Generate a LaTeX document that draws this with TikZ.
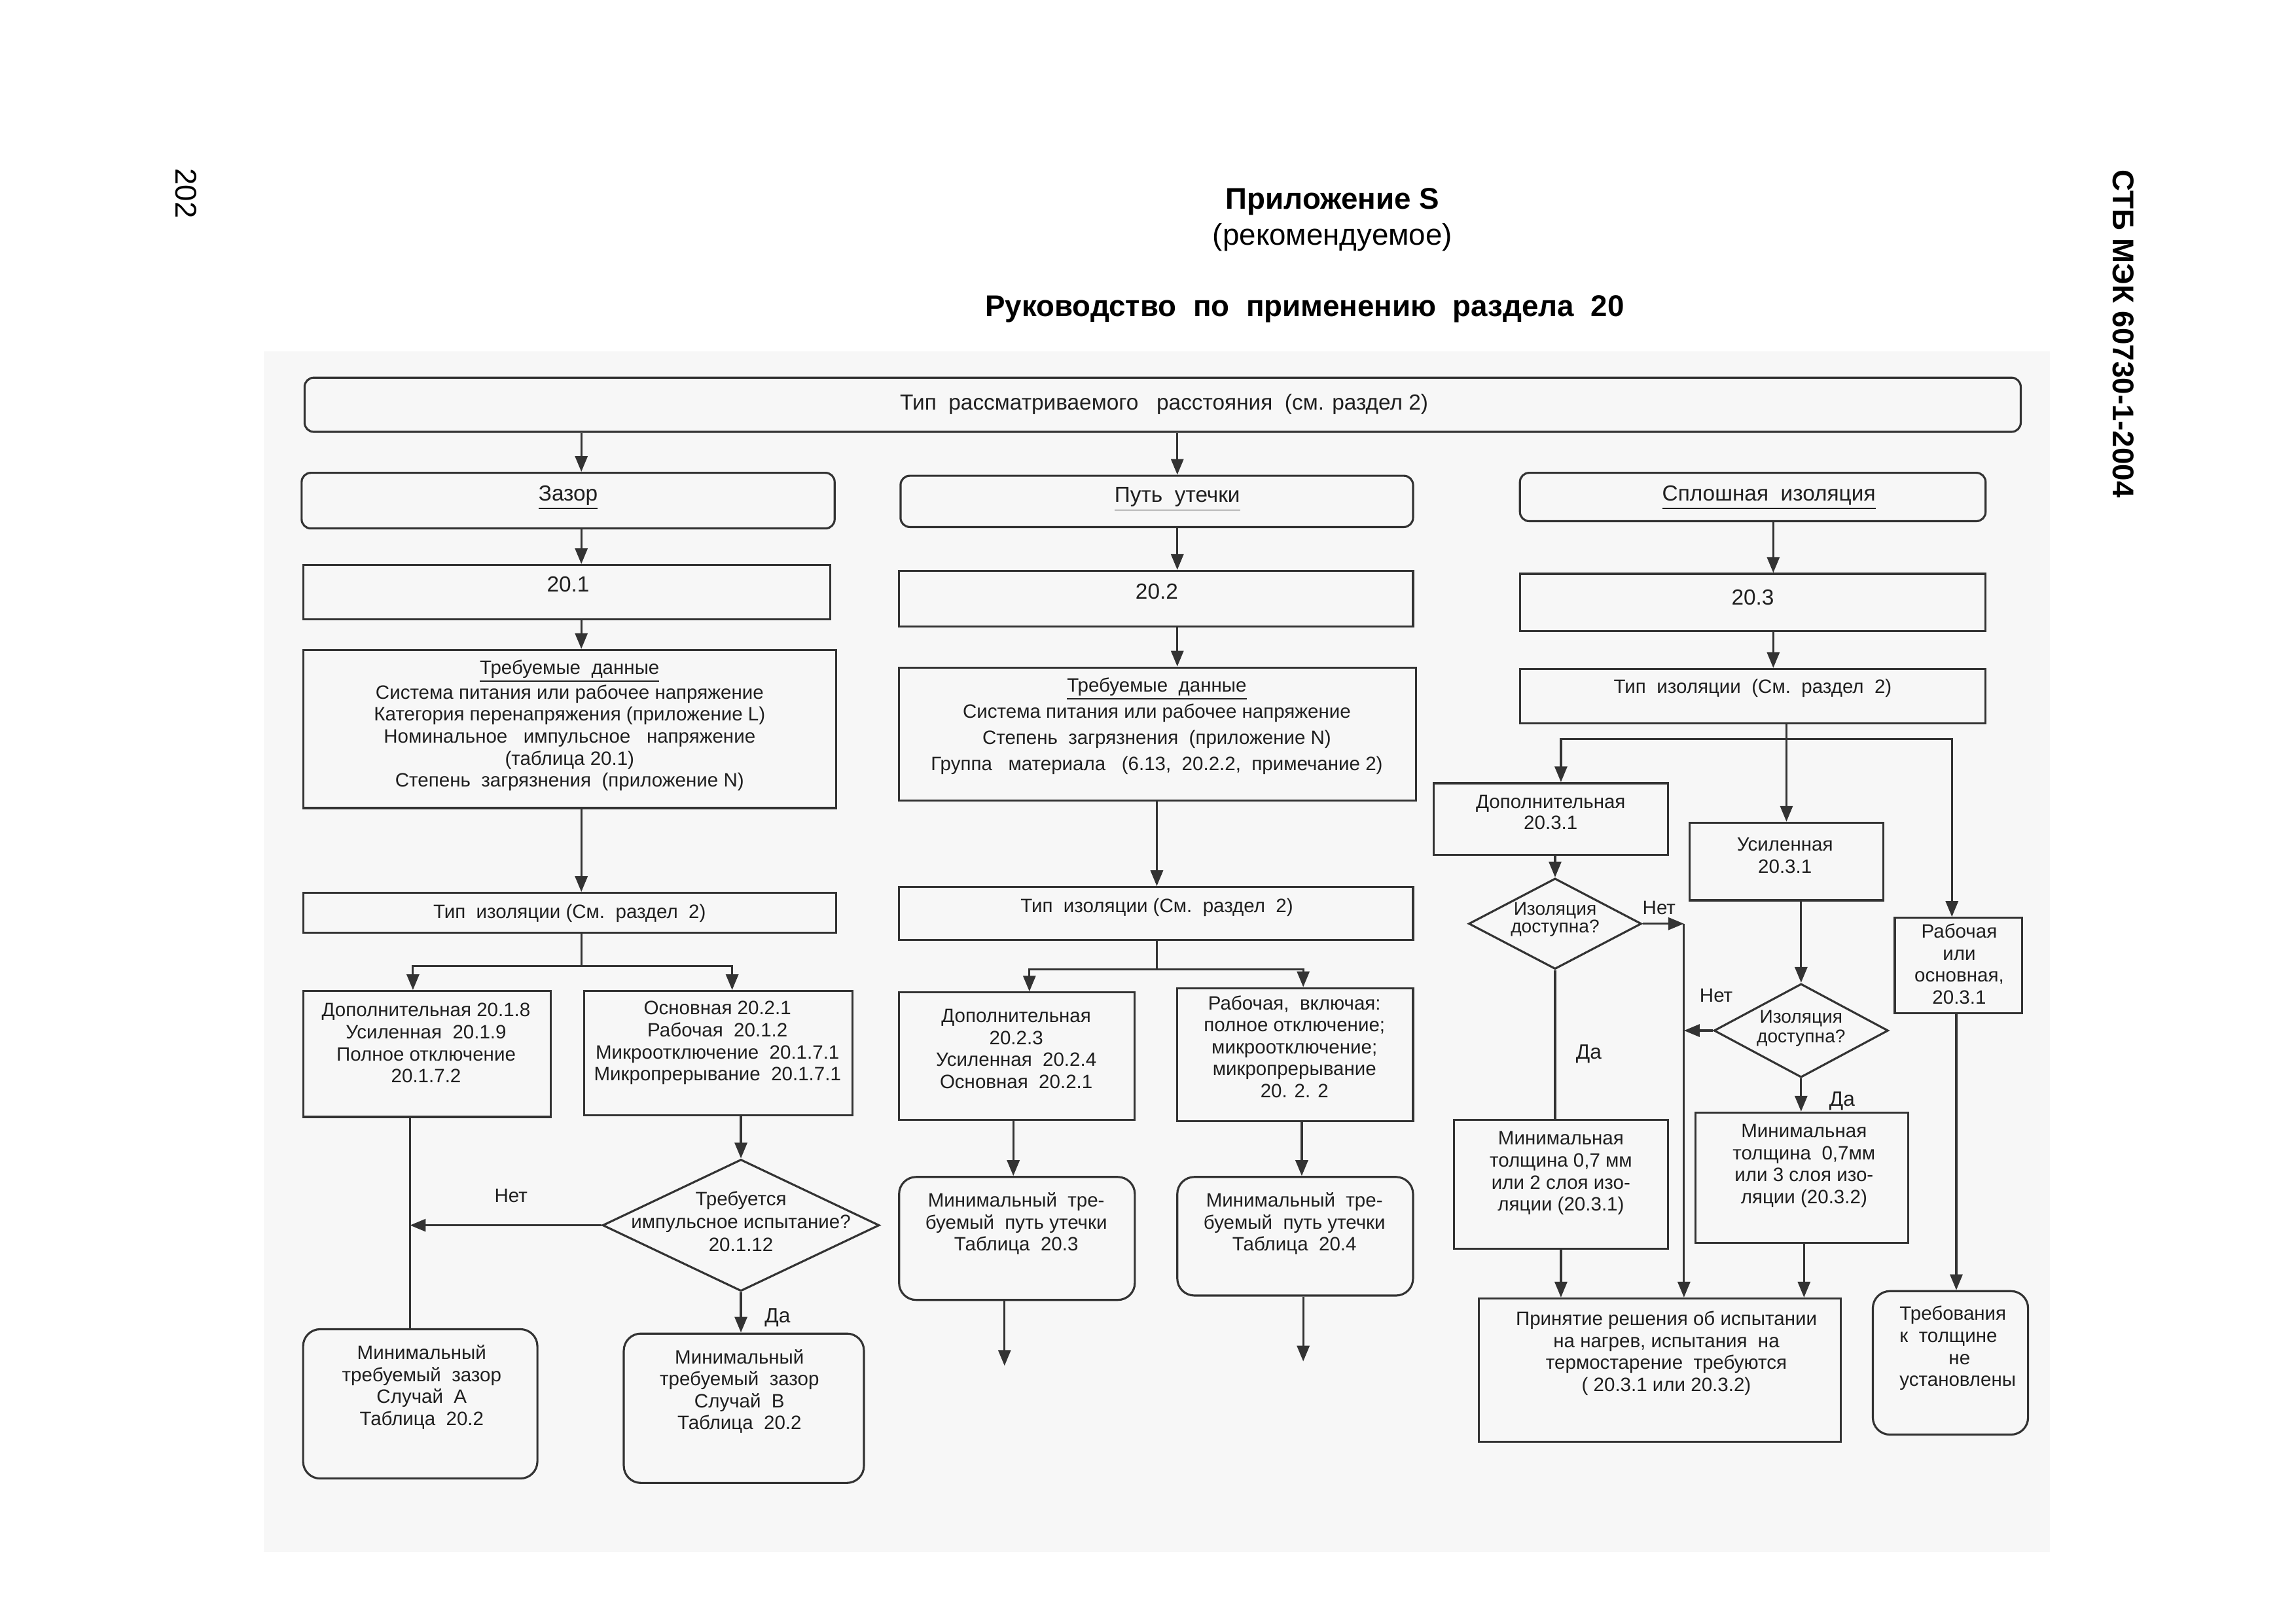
\documentclass[tikz,border=0pt]{standalone}
\usepackage{fontspec}
\setmainfont{Liberation Sans}
\usetikzlibrary{arrows.meta,shapes.geometric,fit}
\newcommand\pxu{0.22372mm}
\begin{document}
\begin{tikzpicture}[x=0.22372mm,y=-0.22372mm,
  line/.style={draw=black!80, line width=0.9pt},
  arr/.style={line, -{Triangle[length=2.4mm,width=1.9mm]}},
  box/.style={draw=black!80, line width=0.9pt, inner sep=0pt, rectangle},
  rbox/.style={box, rounded corners=1.4mm},
  mbox/.style={box, rounded corners=2.6mm},
  dia/.style={draw=black!80, line width=0.9pt, diamond, inner sep=0pt},
  txt/.style={inner sep=0pt, align=center, text=black!88, font=\fontsize{8.4}{9.55}\selectfont},
  hdr/.style={txt, font=\fontsize{9.5}{11}\selectfont},
  ttl/.style={inner sep=0pt, text=black, font=\fontsize{13}{15}\selectfont}
]
\useasboundingbox (0,0) rectangle (1568,1109);
\fill[black!3] (180,240) rectangle (1400,1060);

% titles
\node[ttl, rotate=-90] (pnum) at (127,132) {202};
\node[ttl, rotate=-90, font=\fontsize{13}{15}\bfseries] (std) at (1450,228) {СТБ МЭК 60730-1-2004};
\node[ttl, font=\fontsize{13}{15}\bfseries] (ti1) at (910,138) {Приложение S};
\node[ttl] (ti2) at (910,162) {(рекомендуемое)};
\node[ttl, font=\fontsize{13}{15}\bfseries] (ti3) at (891,211) {Руководство\ \ по\ \ применению\ \ раздела\ \ 20};

% column x coordinates
\coordinate (x1) at (397,0);  \coordinate (x1a) at (282,0); \coordinate (x1b) at (500,0);
\coordinate (x1c) at (280,0);
\coordinate (x2) at (804,0);  \coordinate (x2m) at (790,0); \coordinate (x2a) at (703,0);
\coordinate (x2b) at (890,0); \coordinate (x2c) at (692,0); \coordinate (x2d) at (889,0);
\coordinate (x2e) at (686,0); \coordinate (x2f) at (890,0);
\coordinate (x3) at (1211,0); \coordinate (x3m) at (1220,0); \coordinate (x3a) at (1066,0);
\coordinate (x3b) at (1333,0); \coordinate (x3f) at (1336,0); \coordinate (x3g) at (1066,0);
\coordinate (x3h) at (1232,0);

% boxes
\node[rbox, fit={(208,258) (1380,295)}] (t0) {};
\node[hdr] (t0t) at (795,276) {Тип\ \ рассматриваемого\ \ \ расстояния\ \ (см. раздел 2)};

\node[rbox, fit={(206,323) (570,361)}] (zaz) {};
\node[hdr] (zazt) at (388,340) {\underline{Зазор}};
\node[box, fit={(207,386) (567,423)}] (b201) {};
\node[hdr] (b201t) at (388,399) {20.1};
\node[box, fit={(207,444) (571,552)}] (req1) {};
\node[txt] (req1t) at (389,495.5) {\underline{Требуемые\ \ данные}\\Система питания или рабочее напряжение\\Категория перенапряжения (приложение L)\\Номинальное\ \ \ импульсное\ \ \ напряжение\\(таблица 20.1)\\Степень\ \ загрязнения\ \ (приложение N)};
\node[box, fit={(207,610) (571,637)}] (ins1) {};
\node[txt] (ins1t) at (389,624) {Тип\ \ изоляции (См.\ \ раздел\ \ 2)};
\node[box, fit={(207,677) (376,763)}] (l1) {};
\node[txt] (l1t) at (291,712.5) {Дополнительная 20.1.8\\Усиленная\ \ 20.1.9\\Полное отключение\\20.1.7.2};
\node[box, fit={(399,677) (582,762)}] (l2) {};
\node[txt] (l2t) at (490,712.5) {Основная 20.2.1\\Рабочая\ \ 20.1.2\\Микроотключение\ \ 20.1.7.1\\Микропрерывание\ \ 20.1.7.1};
\node[dia, minimum width=189*\pxu, minimum height=90*\pxu] (d1) at (506,837) {};
\node[txt, font=\fontsize{8.4}{9.9}\selectfont] (d1t) at (506,834.5) {Требуется\\импульсное испытание?\\20.1.12};
\node[mbox, fit={(207,908) (367,1010)}] (minA) {};
\node[txt] (minAt) at (288,947.5) {Минимальный\\требуемый\ \ зазор\\Случай\ \ А\\Таблица\ \ 20.2};
\node[mbox, fit={(426,911) (590,1013)}] (minB) {};
\node[txt] (minBt) at (505,950.5) {Минимальный\\требуемый\ \ зазор\\Случай\ \ В\\Таблица\ \ 20.2};

\node[rbox, fit={(615,325) (965,360)}] (put) {};
\node[hdr] (putt) at (804,341) {\underline{Путь\ \ утечки}};
\node[box, fit={(614,390) (965,428)}] (b202) {};
\node[hdr] (b202t) at (790,404) {20.2};
\node[box, fit={(614,456) (967,547)}] (req2) {};
\node[txt, font=\fontsize{8.4}{11.46}\selectfont] (req2t) at (790,496) {\underline{Требуемые\ \ данные}\\Система питания или рабочее напряжение\\Степень\ \ загрязнения\ \ (приложение N)\\Группа\ \ \ материала\ \ \ (6.13,\ \ 20.2.2,\ \ примечание 2)};
\node[box, fit={(614,606) (965,642)}] (ins2) {};
\node[txt] (ins2t) at (790,620) {Тип\ \ изоляции (См.\ \ раздел\ \ 2)};
\node[box, fit={(614,678) (775,765)}] (m1) {};
\node[txt] (m1t) at (694,716.5) {Дополнительная\\20.2.3\\Усиленная\ \ 20.2.4\\Основная\ \ 20.2.1};
\node[box, fit={(804,675) (965,766)}] (m2) {};
\node[txt] (m2t) at (884,715) {Рабочая,\ \ включая:\\полное отключение;\\микроотключение;\\микропрерывание\\20. 2. 2};
\node[mbox, fit={(614,804) (775,888)}] (minC) {};
\node[txt] (minCt) at (694,836) {Минимальный\ \ тре-\\буемый\ \ путь утечки\\Таблица\ \ 20.3};
\node[mbox, fit={(804,804) (965,885)}] (minD) {};
\node[txt] (minDt) at (884,836) {Минимальный\ \ тре-\\буемый\ \ путь утечки\\Таблица\ \ 20.4};
\coordinate (e1) at (686,933);
\coordinate (e2) at (890,930);

\node[rbox, fit={(1038,323) (1356,356)}] (spl) {};
\node[hdr] (splt) at (1208,340) {\underline{Сплошная\ \ изоляция}};
\node[box, fit={(1038,392) (1356,431)}] (b203) {};
\node[hdr] (b203t) at (1197,408) {20.3};
\node[box, fit={(1038,457) (1356,494)}] (ins3) {};
\node[txt] (ins3t) at (1197,470) {Тип\ \ изоляции\ \ (См.\ \ раздел\ \ 2)};
\node[box, fit={(979,535) (1139,584)}] (dop3) {};
\node[txt, font=\fontsize{8.4}{9.2}\selectfont] (dop3t) at (1059,555) {Дополнительная\\20.3.1};
\node[box, fit={(1154,562) (1286,615)}] (us3) {};
\node[txt] (us3t) at (1219,584.5) {Усиленная\\20.3.1};
\node[box, fit={(1294,627) (1381,692)}] (rab) {};
\node[txt] (rabt) at (1338,658.5) {Рабочая\\или\\основная,\\20.3.1};
\node[dia, minimum width=118*\pxu, minimum height=62*\pxu] (d2) at (1062,631) {};
\node[txt, font=\fontsize{8}{7.8}\selectfont] (d2t) at (1062,628) {Изоляция\\доступна?};
\node[dia, minimum width=119*\pxu, minimum height=64*\pxu] (d3) at (1230,704) {};
\node[txt, font=\fontsize{8}{8.6}\selectfont] (d3t) at (1230,702.5) {Изоляция\\доступна?};
\coordinate (j2) at (1150,631);
\node[box, fit={(993,765) (1139,853)}] (minT1) {};
\node[txt] (minT1t) at (1066,801.5) {Минимальная\\толщина 0,7 мм\\или 2 слоя изо-\\ляции (20.3.1)};
\node[box, fit={(1158,760) (1303,849)}] (minT2) {};
\node[txt] (minT2t) at (1232,796.5) {Минимальная\\толщина\ \ 0,7мм\\или 3 слоя изо-\\ляции (20.3.2)};
\node[box, fit={(1010,887) (1257,985)}] (prin) {};
\node[txt] (print) at (1138,924.5) {Принятие решения об испытании\\на нагрев, испытания\ \ на\\термостарение\ \ требуются\\( 20.3.1 или 20.3.2)};
\node[mbox, fit={(1279,882) (1385,980)}] (treb) {};
\node[txt, align=left, anchor=west] (trebt) at (1297,921) {Требования\\к\ \ толщине\\\hspace*{7.5mm}не\\установлены};

% labels
\node[txt] (net1) at (349,817) {Нет};
\node[txt, font=\fontsize{9}{10}\selectfont] (da1) at (531,900) {Да};
\node[txt] (net2) at (1133,620) {Нет};
\node[txt, font=\fontsize{9}{10}\selectfont] (da2) at (1085,720) {Да};
\node[txt] (net3) at (1172,680) {Нет};
\node[txt, font=\fontsize{9}{10}\selectfont] (da3) at (1258,752) {Да};

% connectors column 1
\draw[arr] (t0.south -| x1) -- (zaz.north -| x1);
\draw[arr] (zaz.south -| x1) -- (b201.north -| x1);
\draw[arr] (b201.south -| x1) -- (req1.north -| x1);
\draw[arr] (req1.south -| x1) -- (ins1.north -| x1);
\coordinate (br1) at (397,660);
\draw[line] (ins1.south -| br1) -- (br1);
\draw[arr] (br1) -| (l1.north -| x1a);
\draw[arr] (br1) -| (l2.north -| x1b);
\draw[line] (l1.south -| x1c) -- (minA.north -| x1c);
\draw[arr] (l2.south -| d1.north) -- (d1.north);
\draw[arr] (d1.west) -- (d1.west -| x1c);
\draw[arr] (d1.south) -- (minB.north -| d1.south);

% connectors column 2
\draw[arr] (t0.south -| x2) -- (put.north -| x2);
\draw[arr] (put.south -| x2) -- (b202.north -| x2);
\draw[arr] (b202.south -| x2) -- (req2.north -| x2);
\draw[arr] (req2.south -| x2m) -- (ins2.north -| x2m);
\coordinate (br2) at (790,662);
\draw[line] (ins2.south -| br2) -- (br2);
\draw[arr] (br2) -| (m1.north -| x2a);
\draw[arr] (br2) -| (m2.north -| x2b);
\draw[arr] (m1.south -| x2c) -- (minC.north -| x2c);
\draw[arr] (m2.south -| x2d) -- (minD.north -| x2d);
\draw[arr] (minC.south -| x2e) -- (e1);
\draw[arr] (minD.south -| x2f) -- (e2);

% connectors column 3
\draw[arr] (spl.south -| x3) -- (b203.north -| x3);
\draw[arr] (b203.south -| x3) -- (ins3.north -| x3);
\draw[arr] (ins3.south -| x3m) -- (us3.north -| x3m);
\coordinate (br3) at (1220,505);
\draw[arr] (br3) -| (dop3.north -| x3a);
\draw[arr] (br3) -| (rab.north -| x3b);
\draw[arr] (dop3.south -| d2.north) -- (d2.north);
\draw[line] (d2.south) -- (minT1.north -| d2.south);
\draw[arr] (d2.east) -- (j2);
\draw[arr] (j2) -- (prin.north -| j2);
\draw[arr] (us3.south -| d3.north) -- (d3.north);
\draw[arr] (d3.west) -- (d3.west -| j2);
\draw[arr] (d3.south) -- (minT2.north -| d3.south);
\draw[arr] (rab.south -| x3f) -- (treb.north -| x3f);
\draw[arr] (minT1.south -| x3g) -- (prin.north -| x3g);
\draw[arr] (minT2.south -| x3h) -- (prin.north -| x3h);
\end{tikzpicture}
\end{document}
